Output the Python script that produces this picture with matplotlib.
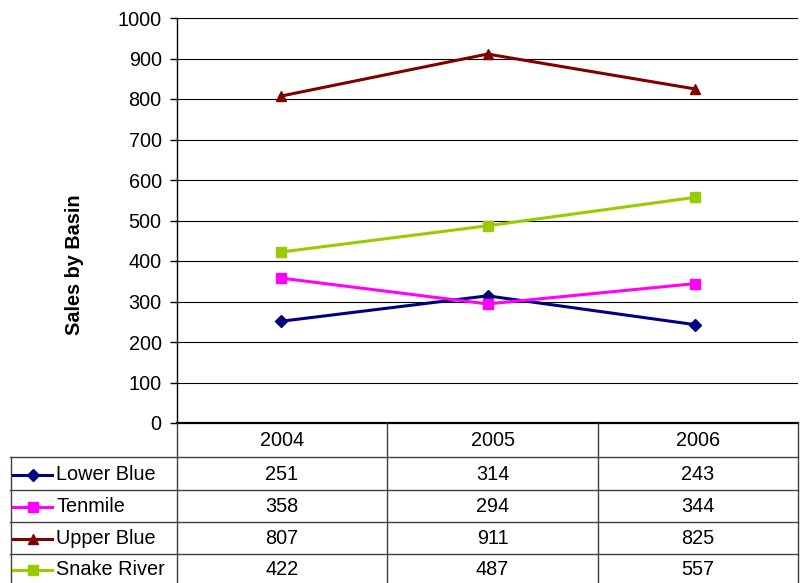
import matplotlib
matplotlib.use("Agg")
import matplotlib.pyplot as plt
from matplotlib.lines import Line2D

plt.rcParams['font.family'] = ['Liberation Sans', 'DejaVu Sans']

years = ["2004", "2005", "2006"]
series_names = ["Lower Blue", "Tenmile", "Upper Blue", "Snake River"]
lower_blue = [251, 314, 243]
tenmile = [358, 294, 344]
upper_blue = [807, 911, 825]
snake_river = [422, 487, 557]
series_values = [lower_blue, tenmile, upper_blue, snake_river]
colors = ["#000080", "#FF00FF", "#800000", "#99CC00"]
markers = ["D", "s", "^", "s"]
marker_sizes = [6, 7, 7.5, 7]

W, H = 800, 583
fig = plt.figure(figsize=(W / 100, H / 100), dpi=100)

def fx(px):
    return px / W

def fy(py):
    return 1 - py / H

ax_l, ax_r, ax_t, ax_b = 177, 798, 18, 423
ax = fig.add_axes([fx(ax_l), fy(ax_b), fx(ax_r - ax_l), fy(ax_t) - fy(ax_b)])

x = list(range(len(years)))
for vals, c, m, ms in zip(series_values, colors, markers, marker_sizes):
    ax.plot(x, vals, color=c, lw=2.2, marker=m, ms=ms, mec=c, mfc=c, zorder=3)

fs = 14.3
ax.set_xlim(-0.5, len(years) - 0.5)
ax.set_ylim(0, 1000)
ax.set_yticks(range(0, 1001, 100))
ax.tick_params(axis='y', labelsize=fs, length=5, width=1, direction='out', pad=6)
ax.set_xticks([])
ax.yaxis.grid(True, color='black', lw=0.8)
ax.set_axisbelow(True)
for s in ['top', 'right']:
    ax.spines[s].set_visible(False)
ax.spines['left'].set_linewidth(1)
ax.spines['bottom'].set_linewidth(1.6)
ax.set_ylabel("Sales by Basin", fontsize=14.3, fontweight='bold')
ax.yaxis.set_label_coords((84 - ax_l) / (ax_r - ax_l), (423 - 265) / (ax_b - ax_t))

# data table beneath the plot
col_edges = [177, 387, 598, 798]
row_edges = [423, 457, 490, 522, 554, 583]
left_edge = 10
lc = "#404040"
lw = 1.0

def hline(y, x0, x1):
    fig.add_artist(Line2D([fx(x0), fx(x1)], [fy(y), fy(y)], color=lc, lw=lw))

def vline(x0, y0, y1):
    fig.add_artist(Line2D([fx(x0), fx(x0)], [fy(y0), fy(y1)], color=lc, lw=lw))

for ce in col_edges:
    vline(ce, ax_b, H)
vline(left_edge + 0.5, row_edges[1], H)
for re in row_edges[1:-1]:
    hline(re, left_edge, col_edges[-1])

for j, yr in enumerate(years):
    cx = (col_edges[j] + col_edges[j + 1]) / 2
    cy = (row_edges[0] + row_edges[1]) / 2 + 1
    fig.text(fx(cx), fy(cy), yr, ha='center', va='center', fontsize=fs)

for i, (name, vals, c, m, ms) in enumerate(zip(series_names, series_values, colors, markers, marker_sizes)):
    cy = (row_edges[i + 1] + row_edges[i + 2]) / 2 + 1
    fig.add_artist(Line2D([fx(13), fx(52)], [fy(cy), fy(cy)], color=c, lw=2.2))
    fig.add_artist(Line2D([fx(32.5)], [fy(cy)], color=c, marker=m, ms=ms, mec=c, mfc=c))
    fig.text(fx(56), fy(cy), name, ha='left', va='center', fontsize=fs)
    for j, v in enumerate(vals):
        cx = (col_edges[j] + col_edges[j + 1]) / 2
        fig.text(fx(cx), fy(cy), str(v), ha='center', va='center', fontsize=fs)

fig.savefig("out.png", dpi=100)
